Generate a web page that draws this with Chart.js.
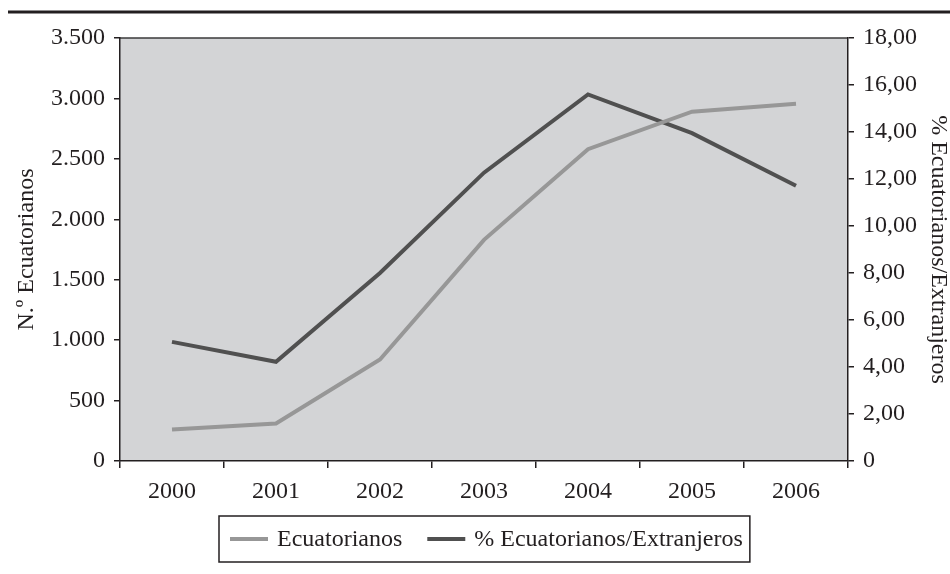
<!DOCTYPE html>
<html>
<head>
<meta charset="utf-8">
<script src="https://cdn.jsdelivr.net/npm/chart.js@4/dist/chart.umd.min.js"></script>
<style>
  html, body { margin: 0; padding: 0; background: #fff; }
  #wrap { width: 950px; height: 574px; }
</style>
</head>
<body>
<div id="wrap"><canvas id="chart" width="950" height="574"></canvas></div>
<script>
const years = ['2000', '2001', '2002', '2003', '2004', '2005', '2006']
const ecuatorianos = [260, 310, 840, 1830, 2580, 2890, 2955]
const pctEcuatorianos = [5.07, 4.22, 8.0, 12.27, 15.6, 13.95, 11.71]

const ink = '#231f20'
const lightGray = '#979797'
const darkGray = '#505050'
const serif = '"Liberation Serif", "Times New Roman", serif'

function thousands(v) {
    return String(v).replace(/\B(?=(\d{3})+(?!\d))/g, '.')
}
function decimals(v) {
    return v === 0 ? '0' : v.toFixed(2).replace('.', ',')
}

// plot background, top border and the rule across the page
const frame = {
    id: 'frame',
    beforeDraw(chart) {
        const { ctx, chartArea: a } = chart
        ctx.save()
        ctx.fillStyle = '#d3d4d6'
        ctx.fillRect(a.left, a.top, a.right - a.left, a.bottom - a.top)
        ctx.strokeStyle = '#3a3a3a'
        ctx.lineWidth = 1.5
        ctx.beginPath()
        ctx.moveTo(a.left, a.top)
        ctx.lineTo(a.right, a.top)
        ctx.stroke()
        ctx.strokeStyle = ink
        ctx.lineWidth = 3
        ctx.beginPath()
        ctx.moveTo(8, 12)
        ctx.lineTo(950, 12)
        ctx.stroke()
        ctx.restore()
    }
}

// boxed legend under the x axis
const boxLegend = {
    id: 'boxLegend',
    afterDraw(chart) {
        const { ctx, chartArea: a } = chart
        const sets = chart.data.datasets
        ctx.save()
        ctx.font = '24px ' + serif
        const seg = 38, gapText = 9, gapItem = 25, padL = 11, padR = 7
        let total = padL + padR
        sets.forEach((d, i) => {
            total += seg + gapText + ctx.measureText(d.label).width
            if (i < sets.length - 1) total += gapItem
        })
        const left = Math.round((a.left + a.right) / 2 - total / 2)
        const top = 516, h = 46
        ctx.strokeStyle = ink
        ctx.lineWidth = 1.5
        ctx.strokeRect(left, top, total, h)
        let x = left + padL
        const cy = top + h / 2
        sets.forEach((d, i) => {
            ctx.strokeStyle = d.borderColor
            ctx.lineWidth = 4
            ctx.beginPath()
            ctx.moveTo(x, cy)
            ctx.lineTo(x + seg, cy)
            ctx.stroke()
            x += seg + gapText
            ctx.fillStyle = ink
            ctx.textBaseline = 'middle'
            ctx.fillText(d.label, x, cy + 1)
            x += ctx.measureText(d.label).width + gapItem
        })
        ctx.restore()
    }
}

const tickFont = { family: serif, size: 24 }

new Chart(document.getElementById('chart'), {
    type: 'line',
    data: {
        labels: years,
        datasets: [
            {
                label: 'Ecuatorianos',
                data: ecuatorianos,
                yAxisID: 'y',
                borderColor: lightGray,
                borderWidth: 4,
                pointRadius: 0,
                tension: 0
            },
            {
                label: '% Ecuatorianos/Extranjeros',
                data: pctEcuatorianos,
                yAxisID: 'y1',
                borderColor: darkGray,
                borderWidth: 4,
                pointRadius: 0,
                tension: 0
            }
        ]
    },
    options: {
        responsive: false,
        animation: false,
        layout: { padding: { top: 38, left: 0, right: 0, bottom: 0 } },
        plugins: {
            legend: { display: false },
            tooltip: { enabled: false }
        },
        scales: {
            x: {
                offset: true,
                grid: { offset: true, drawOnChartArea: false, tickLength: 7, color: ink, lineWidth: 1.5 },
                border: { color: ink, width: 1.5 },
                ticks: { font: tickFont, color: ink, padding: 9, maxRotation: 0 },
                afterFit(s) { s.height = 113 }
            },
            y: {
                position: 'left',
                min: 0,
                max: 3500,
                grid: { drawOnChartArea: false, tickLength: 6, color: ink, lineWidth: 1.5 },
                border: { color: ink, width: 1.5 },
                ticks: { stepSize: 500, font: tickFont, color: ink, padding: 9, callback: v => thousands(v) },
                title: {
                    display: true,
                    text: 'N.º Ecuatorianos',
                    font: { family: serif, size: 24, lineHeight: 1 },
                    color: ink,
                    padding: { top: 15, bottom: 0 }
                },
                afterFit(s) { s.width = 120 }
            },
            y1: {
                position: 'right',
                min: 0,
                max: 18,
                grid: { drawOnChartArea: false, tickLength: 6, color: ink, lineWidth: 1.5 },
                border: { color: ink, width: 1.5 },
                ticks: { stepSize: 2, font: tickFont, color: ink, padding: 9, callback: v => decimals(v) },
                title: {
                    display: true,
                    text: '% Ecuatorianos/Extranjeros',
                    font: { family: serif, size: 24, lineHeight: 1 },
                    color: ink,
                    padding: { top: 0, bottom: 0 }
                },
                afterFit(s) { s.width = 102 }
            }
        }
    },
    plugins: [frame, boxLegend]
})
</script>
</body>
</html>
